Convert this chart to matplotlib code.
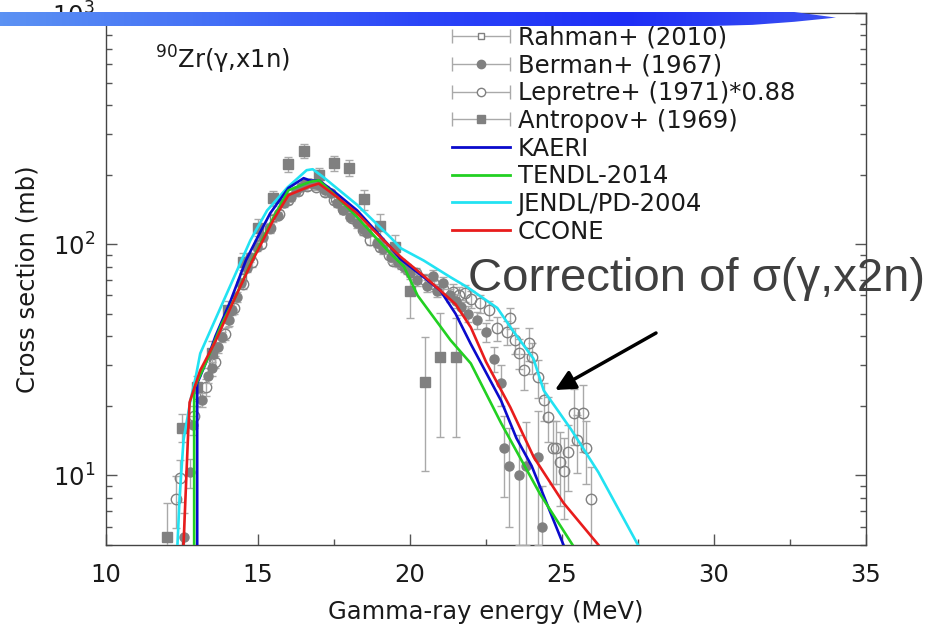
import numpy as np
import matplotlib
matplotlib.use("Agg")
import matplotlib.pyplot as plt
from matplotlib.container import ErrorbarContainer
from matplotlib.legend_handler import HandlerErrorbar
from matplotlib.patches import Polygon
from matplotlib.lines import Line2D
from matplotlib.colors import LinearSegmentedColormap

# ---------------- data ----------------
kaeri_x = [13.0, 13.0, 13.3, 13.6, 14.1, 14.6, 15.0, 15.4, 16.0, 16.5, 16.75, 17.0, 17.6, 18.26, 18.8, 19.36, 19.7, 20.45, 21.0, 21.5, 22.0, 23.0, 23.5, 24.0, 25.05]
kaeri_y = [5, 25, 31, 40, 57, 85, 108, 136, 175, 193, 188, 189, 165, 140, 117, 97, 86, 72, 63, 50, 37, 21, 14.5, 11.0, 5]

tendl_x = [12.9, 12.9, 13.3, 13.8, 14.2, 14.8, 15.5, 16.0, 16.7, 17.0, 17.6, 18.26, 19.36, 19.8, 20.25, 21.33, 22.0, 23.0, 24.28, 25.35]
tendl_y = [5, 23.8, 31, 45, 57, 85, 130, 171, 186, 189, 160, 131, 91, 80, 60, 38.5, 30.5, 16.8, 8.3, 5]

jendl_x = [12.35, 12.42, 12.55, 12.78, 12.95, 13.1, 13.87, 14.75, 15.3, 15.97, 16.6, 16.8, 17.15, 18.26, 19.36, 19.7, 20.45, 21.33, 21.9, 22.87, 23.4, 24.06, 24.4, 25.3, 26.2, 27.5]
jendl_y = [5, 8.0, 14.2, 21.2, 26.6, 33.7, 57, 104, 140, 176, 209, 211, 195, 148, 107, 96, 85, 72, 65, 53, 42, 32, 23.3, 15.8, 10.3, 5]

ccone_x = [12.55, 12.7, 12.75, 13.1, 13.6, 14.2, 14.8, 15.5, 16.0, 16.7, 17.0, 17.6, 18.26, 18.8, 19.36, 19.7, 20.45, 21.0, 21.5, 22.0, 22.5, 23.3, 24.07, 25.05, 26.2]
ccone_y = [5, 15, 20.7, 28.5, 38, 57, 84, 127, 163, 178, 183, 160, 136, 115, 97, 88, 73, 63, 55, 43.7, 31, 19.7, 12.0, 7.6, 5]

rahman_x = [13.0, 13.5, 14.0, 14.5, 15.0, 15.5, 16.0, 16.5, 17.0, 17.5, 18.0, 18.5, 19.0, 19.5, 20.0]
rahman_y = [22, 31, 47, 72, 100, 130, 160, 180, 178, 158, 135, 115, 100, 88, 76]
rahman_err = [2, 2, 3, 3, 4, 5, 6, 6, 6, 6, 5, 5, 4, 4, 4]

berman_x = [12.55, 12.75, 12.85, 13.17, 13.37, 13.5, 13.7, 13.83, 14.03, 14.16, 14.3, 14.45, 14.65, 14.75, 14.97,
            15.17, 15.4, 15.67, 15.84, 16.07, 16.25, 16.4, 16.55, 16.7, 16.85, 17.0, 17.2, 17.4, 17.6, 17.8,
            18.04, 18.26, 18.45, 18.6, 18.9, 19.1, 19.36, 19.6, 19.8, 20.0, 20.24, 20.56, 20.77, 20.9, 21.1,
            21.3, 21.5, 21.67, 21.9, 22.2, 22.5, 22.75, 23.0, 23.1, 23.25, 23.6, 23.8, 24.2, 24.35]
berman_y = [5.4, 10.3, 16.5, 21.2, 27, 29, 35.8, 39.6, 46.9, 51.8, 59, 68, 78.7, 87.8, 97,
            107, 118, 133, 150, 160, 170, 177, 182, 184, 182, 180, 172, 166, 150, 140,
            131, 123, 116, 112, 101, 95, 88, 84, 80, 75, 70, 66, 73, 63, 68,
            60, 57, 53.4, 50, 47, 41.6, 32, 25, 13.1, 11.0, 10.0, 11.0, 12.0, 6.0]
berman_err = [1.5, 1.5, 1.5, 1.5, 2, 2, 2, 2, 2.5, 2.5, 3, 3, 3, 4, 4,
              4, 5, 5, 5, 6, 6, 6, 6, 6, 6, 6, 6, 6, 5, 5,
              5, 5, 4, 4, 4, 4, 4, 4, 4, 4, 4, 4, 4, 4, 4,
              4, 4, 4, 4, 4, 4, 4, 5, 5, 5, 5, 6, 7, 3]

lep_x = [12.3, 12.42, 12.9, 13.3, 13.6, 13.9, 14.2, 14.5, 14.8, 15.1, 15.4, 15.7, 16.0, 16.3, 16.6, 16.9,
         17.2, 17.5, 17.8, 18.1, 18.45, 18.7, 19.0, 19.3, 19.45, 19.7, 19.9, 20.2, 20.5, 20.8, 21.1, 21.4,
         21.6, 21.8, 22.0, 22.3, 22.6, 22.85, 23.2, 23.3, 23.45, 23.6, 23.75, 23.9, 24.0, 24.2, 24.4, 24.55,
         24.7, 24.8, 24.95, 25.05, 25.2, 25.4, 25.5, 25.7, 25.8, 25.95]
lep_y = [7.9, 9.7, 18, 24, 31, 41, 53, 67, 84, 100, 117, 135, 155, 170, 178, 177,
         168, 155, 142, 130, 115, 104, 97, 90, 85, 82, 78, 75, 70, 67, 64, 62,
         60, 61.4, 58, 55.5, 51.8, 43.3, 41.6, 47.9, 38.5, 33.8, 28.5, 37.3, 32.4, 26.6, 21.2, 17.9,
         13.2, 13.2, 11.4, 10.5, 12.6, 18.6, 14.2, 18.6, 13.2, 7.9]
lep_err = [2.0, 2.0, 2, 2, 2, 2.5, 3, 3, 4, 4, 5, 5, 6, 6, 6, 6,
           6, 6, 5, 5, 5, 5, 4, 4, 4, 4, 4, 4, 4, 4, 4, 5,
           5, 5, 5, 5, 5, 5, 5, 5, 5, 5, 5, 6, 5, 5, 4, 4,
           4, 4, 4, 4, 4, 5, 4, 6, 4, 3]

antr_x = [12.0, 12.5, 13.0, 13.5, 14.0, 14.5, 15.0, 15.5, 16.0, 16.5, 17.0, 17.5, 18.0, 18.5, 19.0, 19.5, 20.0, 20.5, 21.0, 21.5]
antr_y = [5.4, 16.1, 24, 34, 52, 84, 118, 158, 222, 253, 199, 224, 213, 157, 120, 97, 63, 25.3, 32.4, 32.4]
antr_lo = [4.0, 13.9, 21, 30, 47, 77, 108, 146, 206, 236, 185, 208, 197, 140, 106, 82, 48, 10.5, 14.6, 14.6]
antr_hi = [7.6, 18.5, 27, 38, 57, 92, 128, 170, 238, 270, 213, 240, 232, 172, 135, 110, 80, 39.6, 50.3, 48.0]

legend_labels = ["Rahman+ (2010)", "Berman+ (1967)", "Lepretre+ (1971)*0.88", "Antropov+ (1969)",
                 "KAERI", "TENDL-2014", "JENDL/PD-2004", "CCONE"]
x_ticks = [10, 15, 20, 25, 30, 35]

# ---------------- figure ----------------
W, H = 929, 630
fig = plt.figure(figsize=(W / 100, H / 100), dpi=100)
L, R, T, B = 106, 866, 13, 545
ax = fig.add_axes([L / W, 1 - B / H, (R - L) / W, (B - T) / H])

FS = 17.5
TXT = "#1a1a1a"
PG = "#808080"
EG = "#a9a9a9"

ekw = dict(ls="none", ecolor=EG, elinewidth=1.0, capsize=3, capthick=1.0)
ax.errorbar(rahman_x, rahman_y, yerr=rahman_err, marker="s", ms=5, mfc="white", mec=PG, mew=1, zorder=2, **ekw)
ax.errorbar(lep_x, lep_y, yerr=lep_err, marker="o", ms=7.5, mfc="none", mec=PG, mew=1, zorder=3, **ekw)
ax.errorbar(berman_x, berman_y, yerr=berman_err, marker="o", ms=6.5, mfc=PG, mec=PG, zorder=4, **ekw)
antr_err = [np.array(antr_y) - np.array(antr_lo), np.array(antr_hi) - np.array(antr_y)]
ax.errorbar(antr_x, antr_y, yerr=antr_err, marker="s", ms=7, mfc=PG, mec=PG, zorder=4, **ekw)

lw = 1.9
ax.plot(kaeri_x, kaeri_y, color="#0a0acc", lw=lw, zorder=6)
ax.plot(tendl_x, tendl_y, color="#22d022", lw=lw, zorder=6)
ax.plot(jendl_x, jendl_y, color="#22e2f2", lw=lw, zorder=5)
ax.plot(ccone_x, ccone_y, color="#e81c1c", lw=lw, zorder=7)

ax.set_yscale("log")
ax.set_xlim(10, 35)
ax.set_ylim(5, 1000)
ax.set_xticks(x_ticks)
ax.set_xticklabels([str(v) for v in x_ticks])
ax.set_xticks(np.arange(12.5, 35, 5), minor=True)
ax.tick_params(which="both", direction="in", top=True, right=True, colors="#555555",
               labelcolor=TXT, labelsize=FS)
ax.tick_params(which="major", length=8, width=1)
ax.tick_params(which="minor", length=4, width=1)
ax.tick_params(axis="x", which="major", pad=13)
ax.tick_params(axis="y", which="major", pad=8)
for s in ax.spines.values():
    s.set_color("#444444")
    s.set_linewidth(1.0)

ax.set_xlabel("Gamma-ray energy (MeV)", fontsize=FS, color=TXT, labelpad=9)
ax.set_ylabel("Cross section (mb)", fontsize=FS, color=TXT, labelpad=9)

ax.text((155 - L) / (R - L), (B - 60) / (B - T), r"$^{90}$Zr(γ,x1n)", fontsize=FS, color=TXT,
        ha="left", va="center", transform=ax.transAxes)

# legend
cap = dict(ls="none", ecolor=EG, elinewidth=1.0, capsize=5, capthick=1.0)
h1 = ax.errorbar([np.nan], [np.nan], xerr=[1], marker="s", ms=5, mfc="white", mec=PG, **cap)
h2 = ax.errorbar([np.nan], [np.nan], xerr=[1], marker="o", ms=6, mfc=PG, mec=PG, **cap)
h3 = ax.errorbar([np.nan], [np.nan], xerr=[1], marker="o", ms=6, mfc="white", mec=PG, **cap)
h4 = ax.errorbar([np.nan], [np.nan], xerr=[1], marker="s", ms=6, mfc=PG, mec=PG, **cap)
h5 = Line2D([], [], color="#0a0acc", lw=2)
h6 = Line2D([], [], color="#22d022", lw=2)
h7 = Line2D([], [], color="#22e2f2", lw=2)
h8 = Line2D([], [], color="#e81c1c", lw=2)
leg = ax.legend([h1, h2, h3, h4, h5, h6, h7, h8], legend_labels,
                handler_map={ErrorbarContainer: HandlerErrorbar(xerr_size=1.2)},
                loc="upper left", bbox_to_anchor=(452 / W, 1 - 26 / H), bbox_transform=fig.transFigure,
                frameon=False, fontsize=FS, handlelength=2.4, handletextpad=0.3,
                labelspacing=0.15, borderpad=0, borderaxespad=0)
for t in leg.get_texts():
    t.set_color(TXT)

# annotation
fig.text(696 / W, 1 - 279 / H, "Correction of σ(γ,x2n)", fontsize=34, color="#404040",
         family=["Liberation Sans", "DejaVu Sans"], ha="center", va="center")
ax.annotate("", xy=(555, H - 390), xycoords="figure pixels", xytext=(656, H - 333),
            textcoords="figure pixels",
            arrowprops=dict(arrowstyle="-|>", lw=2.5, color="black", mutation_scale=30, shrinkA=0, shrinkB=0))

# decorative banner
bx = fig.add_axes([0, 1 - 26 / H, 836 / W, 14 / H])
bx.set_axis_off()
grad = np.linspace(0, 1, 256)[None, :]
cm = LinearSegmentedColormap.from_list("ban", ["#5c92f3", "#4470f6", "#2b45f8", "#1e2ef6", "#3a50f2"])
im = bx.imshow(grad, aspect="auto", cmap=cm, extent=(0, 1, 0, 1))
bx.set_xlim(0, 1)
bx.set_ylim(0, 1)
poly = Polygon([(0, 0), (0, 1), (0.95, 1), (1.0, 0.6), (0.95, 0.3), (0.9, 0.08), (0.85, 0)],
               closed=True, transform=bx.transData, facecolor="none", edgecolor="none")
bx.add_patch(poly)
im.set_clip_path(poly)

fig.savefig("out.png", dpi=100)
